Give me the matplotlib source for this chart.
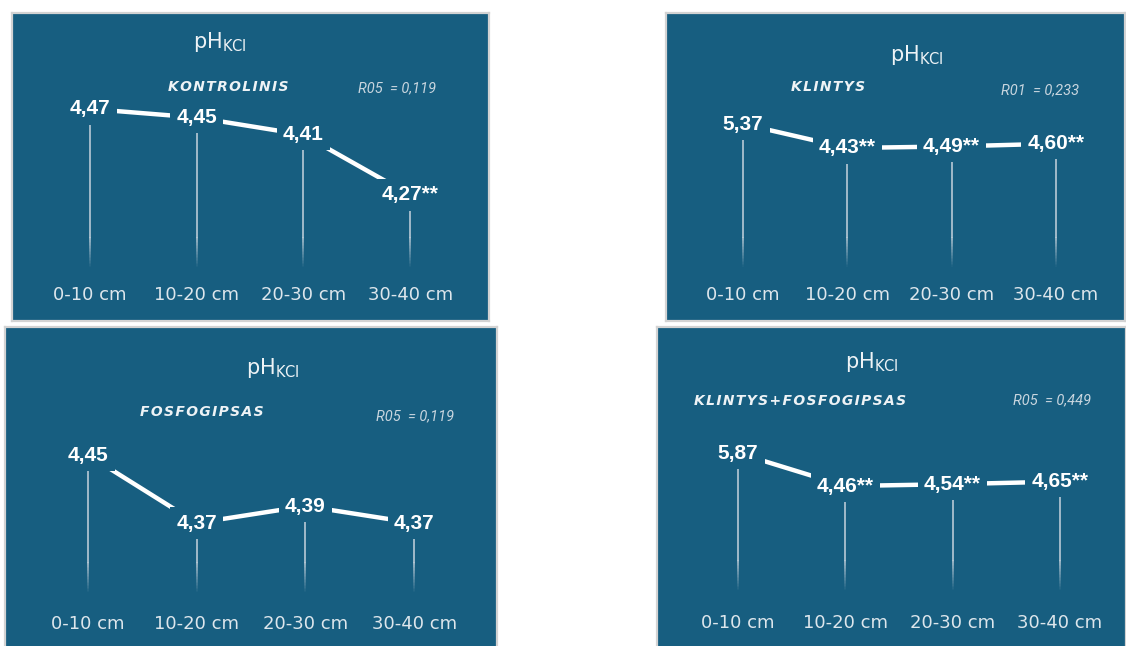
import numpy as np
import matplotlib
matplotlib.use("Agg")
import matplotlib.pyplot as plt
from matplotlib.collections import LineCollection
from matplotlib.colors import to_rgba

# data
depths = ["0-10 cm", "10-20 cm", "20-30 cm", "30-40 cm"]
title = r"$\mathrm{pH}_{\mathrm{KCl}}$"

kontrolinis = [4.47, 4.45, 4.41, 4.27]
kontrolinis_sig = ["", "", "", "**"]
klintys = [5.37, 4.43, 4.49, 4.60]
klintys_sig = ["", "**", "**", "**"]
fosfogipsas = [4.45, 4.37, 4.39, 4.37]
fosfogipsas_sig = ["", "", "", ""]
klintys_fosf = [5.87, 4.46, 4.54, 4.65]
klintys_fosf_sig = ["", "**", "**", "**"]

names = ["KONTROLINIS", "KLINTYS", "FOSFOGIPSAS", "KLINTYS+FOSFOGIPSAS"]
lsd = ["R05  = 0,119", "R01  = 0,233", "R05  = 0,119", "R05  = 0,449"]

W, H = 1126, 646
BG = "#175e80"
LINE_V = "#b9cad6"

fig = plt.figure(figsize=(W / 100, H / 100), dpi=100, facecolor="white")


def spaced(s):
    return "\u200a".join(s)


def panel(box, x_first, x_step, ylim, vals, sig, name, rtext,
          title_xy, name_xy, r_xy, vbot_px, lab_px):
    # box = (left, top, right, bottom) in pixels
    l, t, r, b = box
    ax = fig.add_axes([l / W, 1 - b / H, (r - l) / W, (b - t) / H])
    ax.set_facecolor(BG)
    for s in ax.spines.values():
        s.set_color("#d3d3d3")
        s.set_linewidth(1.6)
    ax.set_xticks([])
    ax.set_yticks([])
    ax.set_xlim(-(x_first - l) / x_step, 3 + (r - x_first - 3 * x_step) / x_step)
    ax.set_ylim(*ylim)

    x = np.arange(len(vals))
    y0, y1 = ylim

    def px2y(py):
        return y0 + (b - py) / (b - t) * (y1 - y0)

    def px2fx(px):
        return (px - l) / (r - l)

    def px2fy(py):
        return (b - py) / (b - t)

    # vertical stems with faded bottom
    ybot = px2y(vbot_px)
    yfade = px2y(vbot_px - 30)
    c = to_rgba(LINE_V)
    for xi, v in zip(x, vals):
        ax.plot([xi, xi], [yfade, v], color=LINE_V, lw=1.2, zorder=1)
        ys = np.linspace(ybot, yfade, 21)
        segs = [[(xi, ys[k]), (xi, ys[k + 1])] for k in range(20)]
        cols = [(c[0], c[1], c[2], (k + 1) / 21) for k in range(20)]
        ax.add_collection(LineCollection(segs, colors=cols, lw=1.2, zorder=1))

    ax.plot(x, vals, color="white", lw=3.2, solid_capstyle="butt", zorder=2)

    for xi, v, s in zip(x, vals, sig):
        ax.text(xi, v, f"{v:.2f}".replace(".", ",") + s, ha="center", va="center",
                fontsize=15, fontweight="bold", color="white",
                family="Liberation Sans", zorder=3,
                bbox=dict(boxstyle="square,pad=0.3", fc=BG, ec="none"))

    for xi, d in zip(x, depths):
        ax.text(xi, px2fy(lab_px), d, transform=ax.get_xaxis_transform(),
                ha="center", va="center", fontsize=13, color="#dde6ec")

    ax.text(px2fx(title_xy[0]), px2fy(title_xy[1]), title, transform=ax.transAxes,
            ha="center", va="center", fontsize=15, color="#eef3f6")
    ax.text(px2fx(name_xy[0]), px2fy(name_xy[1]), spaced(name), transform=ax.transAxes,
            ha="center", va="center", fontsize=10, fontweight="bold",
            style="italic", color="#eef3f6")
    ax.text(px2fx(r_xy[0]), px2fy(r_xy[1]), rtext, transform=ax.transAxes,
            ha="center", va="center", fontsize=10.5, style="italic",
            family="Roboto", color="#c9d6df")
    return ax


# Kontrolinis
panel((12, 13, 489, 321), 90, 106.7, (3.977, 4.693), kontrolinis, kontrolinis_sig,
      names[0], lsd[0], (220, 42), (228, 87), (397, 88), 267, 295)
# Klintys
panel((666, 13, 1125, 321), 743, 104.3, (-2.35, 9.72), klintys, klintys_sig,
      names[1], lsd[1], (917, 55), (828, 87), (1040, 90), 267, 295)
# Fosfogipsas
panel((5, 327, 497, 648), 88, 108.7, (4.223, 4.6006), fosfogipsas, fosfogipsas_sig,
      names[2], lsd[2], (273, 368), (202, 412), (415, 416), 592, 624)
# Klintys + fosfogipsas
panel((657, 327, 1126, 648), 738, 107.3, (-2.46, 11.255), klintys_fosf, klintys_fosf_sig,
      names[3], lsd[3], (872, 362), (800, 401), (1052, 400), 590, 623)

fig.savefig("out.png", dpi=100, facecolor="white")
